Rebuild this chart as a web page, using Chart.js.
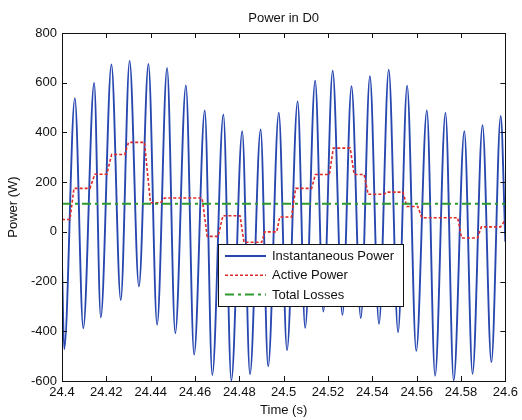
<!DOCTYPE html>
<html>
<head>
<meta charset="utf-8">
<title>Power in D0</title>
<script src="https://cdn.jsdelivr.net/npm/chart.js@4.4.1/dist/chart.umd.min.js"></script>
<style>
  html, body { margin: 0; padding: 0; background: #fff; }
  canvas { display: block; }
</style>
</head>
<body>
<canvas id="powerChart" width="522" height="420"></canvas>
<script>
// axis ticks
const timeTicks = [24.4, 24.42, 24.44, 24.46, 24.48, 24.5, 24.52, 24.54, 24.56, 24.58, 24.6];
const timeTickLabels = ["24.4", "24.42", "24.44", "24.46", "24.48", "24.5", "24.52", "24.54", "24.56", "24.58", "24.6"];
const powerTicks = [-600, -400, -200, 0, 200, 400, 600, 800];

// instantaneous power: turning points of the waveform (s, W)
const instTimes = [
    24.4000, 24.4010, 24.4058, 24.4096, 24.4145, 24.4175, 24.4223, 24.4265, 24.4305, 24.4347,
    24.4390, 24.4429, 24.4474, 24.4511, 24.4559, 24.4596, 24.4644, 24.4678, 24.4728, 24.4764,
    24.4813, 24.4848, 24.4896, 24.4930, 24.4978, 24.5015, 24.5063, 24.5097, 24.5142, 24.5179,
    24.5221, 24.5265, 24.5306, 24.5348, 24.5389, 24.5430, 24.5474, 24.5516, 24.5557, 24.5598,
    24.5646, 24.5683, 24.5730, 24.5767, 24.5815, 24.5852, 24.5897, 24.5937, 24.5979, 24.6000
];
const instPower = [
    -130, -472, 538, -388, 599, -344, 673, -274, 688, -220,
    675, -374, 659, -408, 589, -494, 488, -576, 472, -598,
    405, -573, 412, -541, 479, -476, 525, -386, 608, -321,
    648, -334, 586, -347, 626, -370, 652, -404, 588, -479,
    488, -579, 479, -598, 405, -571, 429, -524, 466, -40
];

// active power (s, W)
const activeTimes = [
    24.4000, 24.4036, 24.4054, 24.4126, 24.4148, 24.4202, 24.4224, 24.4283, 24.4300, 24.4372,
    24.4399, 24.4444, 24.4462, 24.4632, 24.4655, 24.4704, 24.4726, 24.4803, 24.4821, 24.4901,
    24.4915, 24.4969, 24.4982, 24.5036, 24.5054, 24.5126, 24.5143, 24.5206, 24.5224, 24.5300,
    24.5318, 24.5363, 24.5381, 24.5453, 24.5466, 24.5538, 24.5556, 24.5605, 24.5623, 24.5785,
    24.5803, 24.5874, 24.5892, 24.5978, 24.6000
];
const activePower = [
    50, 50, 175, 175, 232, 232, 311, 311, 360, 360,
    117, 117, 136, 136, -18, -18, 65, 65, -42, -42,
    0, 0, 60, 60, 175, 175, 231, 231, 337, 337,
    231, 231, 151, 151, 160, 160, 102, 102, 57, 57,
    -25, -25, 20, 20, 48
];

// total losses (s, W)
const lossTimes = [24.4, 24.6];
const lossPower = [113, 113];

const FONT = "'Liberation Sans', Arial, Helvetica, sans-serif";

function toPoints(xs, ys) {
    return xs.map((x, i) => ({ x: x, y: ys[i] }));
}

// matlab style frame: box around the axes with ticks pointing inwards
const axesBox = {
    id: "axesBox",
    afterDatasetsDraw(chart) {
        const { ctx, chartArea: a, scales } = chart;
        const len = 5;
        ctx.save();
        ctx.strokeStyle = "#111";
        ctx.lineWidth = 1;
        ctx.beginPath();
        scales.x.ticks.forEach(t => {
            const px = Math.round(scales.x.getPixelForValue(t.value)) + 0.5;
            ctx.moveTo(px, a.bottom); ctx.lineTo(px, a.bottom - len);
            ctx.moveTo(px, a.top); ctx.lineTo(px, a.top + len);
        });
        scales.y.ticks.forEach(t => {
            const py = Math.round(scales.y.getPixelForValue(t.value)) + 0.5;
            ctx.moveTo(a.left, py); ctx.lineTo(a.left + len, py);
            ctx.moveTo(a.right, py); ctx.lineTo(a.right - len, py);
        });
        ctx.stroke();
        ctx.strokeRect(Math.round(a.left) + 0.5, Math.round(a.top) + 0.5,
            Math.round(a.right - a.left), Math.round(a.bottom - a.top));
        ctx.restore();
    }
};

// boxed legend sitting inside the plot
const boxLegend = {
    id: "boxLegend",
    afterDraw(chart) {
        const { ctx, chartArea: a } = chart;
        const x0 = a.left + 156, y0 = a.top + 211, w = 185, h = 62;
        ctx.save();
        ctx.fillStyle = "#fff";
        ctx.fillRect(x0, y0, w, h);
        ctx.strokeStyle = "#111";
        ctx.lineWidth = 1;
        ctx.strokeRect(x0 + 0.5, y0 + 0.5, w, h);
        ctx.font = "13px " + FONT;
        ctx.textBaseline = "middle";
        ctx.fillStyle = "#111";
        chart.data.datasets.forEach((ds, i) => {
            const cy = y0 + 12 + i * 19.3;
            ctx.strokeStyle = ds.borderColor;
            ctx.lineWidth = ds.borderWidth;
            ctx.setLineDash(ds.borderDash || []);
            ctx.beginPath();
            ctx.moveTo(x0 + 7, cy);
            ctx.lineTo(x0 + 48, cy);
            ctx.stroke();
            ctx.setLineDash([]);
            ctx.fillText(ds.label, x0 + 54, cy + 0.5);
        });
        ctx.restore();
    }
};

const ctx = document.getElementById("powerChart").getContext("2d");

new Chart(ctx, {
    type: "line",
    data: {
        datasets: [
            {
                label: "Instantaneous Power",
                data: toPoints(instTimes, instPower),
                borderColor: "#2848b0",
                borderWidth: 1.9,
                pointRadius: 0,
                cubicInterpolationMode: "monotone",
                order: 3,
            },
            {
                label: "Active Power",
                data: toPoints(activeTimes, activePower),
                borderColor: "#e02a2a",
                borderWidth: 1.6,
                borderDash: [3, 2],
                pointRadius: 0,
                tension: 0,
                order: 2,
            },
            {
                label: "Total Losses",
                data: toPoints(lossTimes, lossPower),
                borderColor: "#2e9a2e",
                borderWidth: 2,
                borderDash: [9, 4, 3, 4],
                pointRadius: 0,
                tension: 0,
                order: 1,
            },
        ],
    },
    options: {
        responsive: false,
        animation: false,
        layout: { padding: { left: 0, right: 14, top: 0, bottom: 0 } },
        plugins: {
            legend: { display: false },
            tooltip: { enabled: false },
            title: {
                display: true,
                text: "Power in D0",
                fullSize: false,
                color: "#111",
                font: { family: FONT, size: 13, weight: "normal" },
                padding: { top: 11, bottom: 6.4 },
            },
        },
        scales: {
            x: {
                type: "linear",
                min: 24.4,
                max: 24.6,
                afterBuildTicks: s => { s.ticks = timeTicks.map(v => ({ value: v })); },
                afterFit: s => { s.height = 39; },
                ticks: {
                    autoSkip: false,
                    maxRotation: 0,
                    padding: 4,
                    color: "#111",
                    font: { family: FONT, size: 13 },
                    callback: (v, i) => timeTickLabels[i],
                },
                grid: { display: false, drawTicks: false },
                border: { display: false },
                title: {
                    display: true,
                    text: "Time (s)",
                    color: "#111",
                    font: { family: FONT, size: 13 },
                    padding: { top: 0, bottom: 2 },
                },
            },
            y: {
                min: -600,
                max: 800,
                afterBuildTicks: s => { s.ticks = powerTicks.map(v => ({ value: v })); },
                afterFit: s => { s.width = 62; },
                ticks: {
                    padding: 5,
                    color: "#111",
                    font: { family: FONT, size: 13 },
                },
                grid: { display: false, drawTicks: false },
                border: { display: false },
                title: {
                    display: true,
                    text: "Power (W)",
                    color: "#111",
                    font: { family: FONT, size: 13 },
                    padding: { top: 6, bottom: 0 },
                },
            },
        },
    },
    plugins: [axesBox, boxLegend],
});
</script>
</body>
</html>
